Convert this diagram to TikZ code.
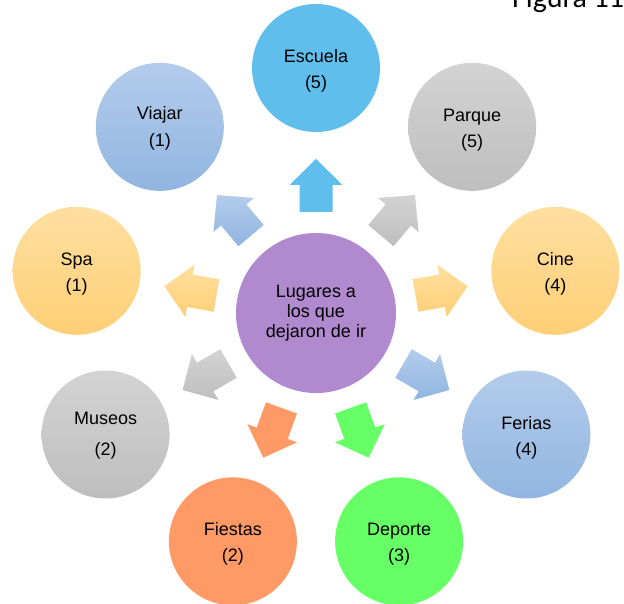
\documentclass[tikz,border=0pt]{standalone}
\usepackage{fontspec}
\setmainfont{Liberation Sans}
\newfontfamily\figfont{Carlito}
\usetikzlibrary{calc}
\definecolor{skyB}{RGB}{96,190,236}
\definecolor{grayT}{RGB}{211,211,211}
\definecolor{grayB}{RGB}{190,190,190}
\definecolor{orT}{RGB}{255,223,160}
\definecolor{orB}{RGB}{255,207,118}
\definecolor{blT}{RGB}{180,204,235}
\definecolor{blB}{RGB}{145,181,225}
\definecolor{grn}{RGB}{102,255,102}
\definecolor{orn}{RGB}{255,153,102}
\definecolor{purp}{RGB}{176,137,206}
\newcommand\blockarr[2]{%
  \path[#2] ($(hub.center)+(#1:101)+(#1+90:16.5)$)
    -- ($(hub.center)+(#1:128)+(#1+90:16.5)$)
    -- ($(hub.center)+(#1:128)+(#1+90:26.5)$)
    -- ($(hub.center)+(#1:154)$)
    -- ($(hub.center)+(#1:128)+(#1-90:26.5)$)
    -- ($(hub.center)+(#1:128)+(#1-90:16.5)$)
    -- ($(hub.center)+(#1:101)+(#1-90:16.5)$) -- cycle;}
\begin{document}
\begin{tikzpicture}[x=1pt,y=1pt,
  lbl/.style={font=\fontsize{18}{20}\selectfont, inner sep=0pt, anchor=base},
  bubble/.style={circle, minimum size=128pt, inner sep=0pt},
  fsky/.style={fill=skyB},
  fgray/.style={top color=grayT, bottom color=grayB},
  forange/.style={top color=orT, bottom color=orB},
  fblue/.style={top color=blT, bottom color=blB},
  fgreen/.style={fill=grn},
  fcoral/.style={fill=orn}]
\useasboundingbox (0,0) rectangle (624,-604);
\node[circle, minimum size=160pt, inner sep=0pt, fill=purp, align=center,
      font=\fontsize{18}{20}\selectfont] (hub) at (316,-313)
      {Lugares a\\los que\\dejaron de ir};
% arrows
\blockarr{90}{fsky}
\blockarr{50}{fgray}
\blockarr{10}{forange}
\blockarr{-30}{fblue}
\blockarr{-70}{fgreen}
\blockarr{-110}{fcoral}
\blockarr{-150}{fgray}
\blockarr{170}{forange}
\blockarr{130}{fblue}
% bubbles
\node[bubble, fsky]    (escuela) at ($(hub.center)+(90:245)$) {};
\node[bubble, fgray]   (parque)  at ($(hub.center)+(50:243)$) {};
\node[bubble, forange] (cine)    at ($(hub.center)+(10:243)$) {};
\node[bubble, fblue]   (ferias)  at ($(hub.center)+(-30:243)$) {};
\node[bubble, fgreen]  (deporte) at ($(hub.center)+(-70:243)$) {};
\node[bubble, fcoral]  (fiestas) at ($(hub.center)+(-110:243)$) {};
\node[bubble, fgray]   (museos)  at ($(hub.center)+(-150:243)$) {};
\node[bubble, forange] (spa)     at ($(hub.center)+(170:243)$) {};
\node[bubble, fblue]   (viajar)  at ($(hub.center)+(130:243)$) {};
% labels
\node[lbl] (escuelaT) at ([yshift=5.5pt]escuela.center) {Escuela};
\node[lbl] (escuelaN) at ([yshift=-20.5pt]escuela.center) {(5)};
\node[lbl] (parqueT) at ([yshift=5.5pt]parque.center) {Parque};
\node[lbl] (parqueN) at ([yshift=-20.5pt]parque.center) {(5)};
\node[lbl] (cineT) at ([yshift=5.5pt]cine.center) {Cine};
\node[lbl] (cineN) at ([yshift=-20.5pt]cine.center) {(4)};
\node[lbl] (feriasT) at ([yshift=5.5pt]ferias.center) {Ferias};
\node[lbl] (feriasN) at ([yshift=-20.5pt]ferias.center) {(4)};
\node[lbl] (deporteT) at ([yshift=5.5pt]deporte.center) {Deporte};
\node[lbl] (deporteN) at ([yshift=-20.5pt]deporte.center) {(3)};
\node[lbl] (fiestasT) at ([yshift=5.5pt]fiestas.center) {Fiestas};
\node[lbl] (fiestasN) at ([yshift=-20.5pt]fiestas.center) {(2)};
\node[lbl] (museosT) at ([yshift=10pt]museos.center) {Museos};
\node[lbl] (museosN) at ([yshift=-21pt]museos.center) {(2)};
\node[lbl] (spaT) at ([yshift=5.5pt]spa.center) {Spa};
\node[lbl] (spaN) at ([yshift=-20.5pt]spa.center) {(1)};
\node[lbl] (viajarT) at ([yshift=7.5pt]viajar.center) {Viajar};
\node[lbl] (viajarN) at ([yshift=-19.5pt]viajar.center) {(1)};
% caption (cut by the page edge, as in the reference)
\node[font=\figfont\fontsize{30}{32}\selectfont, inner sep=0pt, anchor=base west]
  (fig) at (512,-8) {Figura 110};
\end{tikzpicture}
\end{document}
